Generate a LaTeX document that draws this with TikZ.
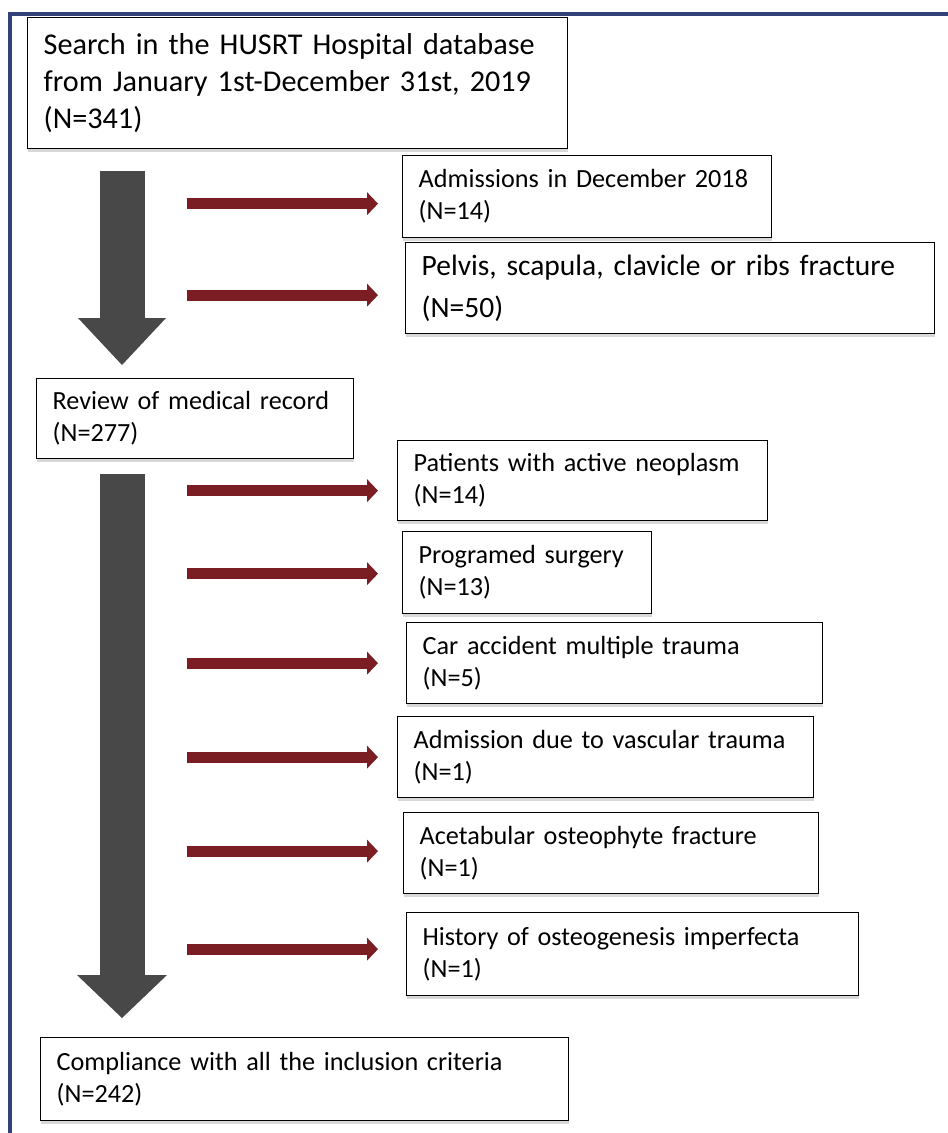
\documentclass[tikz,border=0pt]{standalone}
\usepackage{fontspec}
\setmainfont{Carlito}
\usetikzlibrary{arrows.meta,shadows}
\definecolor{framebl}{RGB}{52,66,122}
\definecolor{stemgray}{RGB}{72,72,72}
\definecolor{exclred}{RGB}{122,30,36}
\begin{document}
\begin{tikzpicture}[x=1pt,y=-1pt]
  \tikzstyle{crit}=[draw=black,line width=1.3pt,fill=white,anchor=north west,align=left,inner xsep=16pt,inner ysep=4pt,
    drop shadow={shadow xshift=0.5pt,shadow yshift=-3pt,opacity=0.3},font=\fontsize{26.2}{32}\selectfont]
  \tikzstyle{stem}=[line width=45pt,draw=stemgray,-{Triangle[length=47pt,width=88pt,line width=0pt]}]
  \tikzstyle{excl}=[line width=11pt,draw=exclred,-{Triangle[length=11pt,width=23pt,line width=0pt]}]
  \useasboundingbox [fill=white] (0,0) rectangle (948,1133);
  \draw [framebl,line width=4.5pt] (10,1133) -- (10,14) -- (948,14);
  % main steps
  \node [crit,font=\fontsize{30.2}{37}\selectfont,minimum width=540pt,minimum height=131pt,text width=508pt] (search) at (27,17)
    {Search in the HUSRT Hospital database\\from January 1st-December 31st, 2019\\(N=341)};
  \node [crit,minimum width=317pt,minimum height=80pt,text width=285pt] (review) at (36,378) {Review of medical record\\(N=277)};
  \node [crit,minimum width=528pt,minimum height=83pt,text width=496pt] (comp) at (40,1037) {Compliance with all the inclusion criteria\\(N=242)};
  % exclusions
  \node [crit,minimum width=369pt,minimum height=82pt,text width=337pt] (admit) at (402,155) {Admissions in December 2018\\(N=14)};
  \node [crit,font=\fontsize{29.5}{42}\selectfont,minimum width=529pt,minimum height=91pt,text width=497pt] (pelvis) at (405,242)
    {Pelvis, scapula, clavicle or ribs fracture\\(N=50)};
  \node [crit,minimum width=370pt,minimum height=80pt,text width=338pt] (neo) at (397,440) {Patients with active neoplasm\\(N=14)};
  \node [crit,minimum width=249pt,minimum height=82pt,text width=217pt] (prog) at (402,531) {Programed surgery\\(N=13)};
  \node [crit,minimum width=416pt,minimum height=81pt,text width=384pt] (car) at (406,622) {Car accident multiple trauma\\(N=5)};
  \node [crit,minimum width=416pt,minimum height=81pt,text width=384pt] (vasc) at (397,716) {Admission due to vascular trauma\\(N=1)};
  \node [crit,minimum width=415pt,minimum height=81pt,text width=383pt] (acet) at (403,812) {Acetabular osteophyte fracture\\(N=1)};
  \node [crit,minimum width=452pt,minimum height=83pt,text width=420pt] (hist) at (406,912) {History of osteogenesis imperfecta\\(N=1)};
  % flow
  \draw [stem] ([xshift=95pt,yshift=-22pt]search.south west) -- ([xshift=86pt,yshift=13pt]review.north west);
  \draw [stem,-{Triangle[length=43pt,width=90pt,line width=0pt]}] ([xshift=86pt,yshift=-15pt]review.south west) -- ([xshift=82pt,yshift=19pt]comp.north west);
  \coordinate (tail) at (187,0);
  \coordinate (head) at (378,0);
  \foreach \b/\dy in {admit/7,pelvis/7,neo/10,prog/1,car/0,vasc/0,acet/-2,hist/-5} {
    \path (\b.west) ++(0,\dy) coordinate (m);
    \draw [excl] (m -| tail) -- (m -| head);
  }
\end{tikzpicture}
\end{document}
